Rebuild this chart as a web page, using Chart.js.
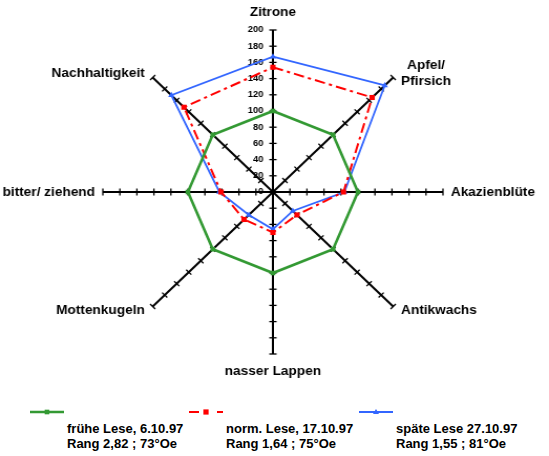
<!DOCTYPE html>
<html lang="de">
<head>
<meta charset="UTF-8">
<title>Aromaprofil nach Lesezeitpunkt</title>
<script src="https://cdn.jsdelivr.net/npm/chart.js@4"></script>
<style>
  body { margin: 0; background: #fff; font-family: "Liberation Sans", Arial, sans-serif; }
  #wrap { position: absolute; left: 0; top: 0; width: 523px; height: 392px;
          transform: scaleX(1.0497); transform-origin: 0 0; }
  .leg { position: absolute; top: 405px; }
  .leg svg { position: absolute; left: 0; top: 0; }
  .leg .txt { position: absolute; left: 37px; top: 16px; white-space: nowrap;
              font-weight: bold; font-size: 13px; line-height: 15px; color: #000; }
</style>
</head>
<body>

<div id="wrap"><canvas id="radar"></canvas></div>
<div id="legend"></div>

<script>
    // categories (clockwise from top)
    const categories = ['Zitrone', ['Apfel/', 'Pfirsich'], 'Akazienblüte', 'Antikwachs',
                        'nasser Lappen', 'Mottenkugeln', 'bitter/ ziehend', 'Nachhaltigkeit'];

    // series values
    const fruehe = [100, 100, 100, 100, 100, 100, 100, 100];
    const normal = [154, 165, 83, 40, 50, 48, 61, 148];
    const spaete = [167, 186, 84, 33, 46, 40, 63, 169];

    const seriesNames = ['frühe Lese, 6.10.97', 'norm. Lese, 17.10.97', 'späte Lese 27.10.97'];
    const seriesNotes = ['Rang 2,82 ; 73°Oe', 'Rang 1,64 ; 75°Oe', 'Rang 1,55 ; 81°Oe'];

    // axis ticks
    const tickValues = [0, 20, 40, 60, 80, 100, 120, 140, 160, 180, 200];
    const tickLabels = ['0', '20', '40', '60', '80', '100', '120', '140', '160', '180', '200'];

    const FONT = '"Liberation Sans", Arial, sans-serif';

    // cross ticks on every axis, value labels on the top axis
    const axisTicks = {
        id: 'axisTicks',
        beforeDatasetsDraw(chart) {
            const r = chart.scales.r;
            const ctx = chart.ctx;
            ctx.save();
            ctx.strokeStyle = '#000';
            ctx.lineWidth = 1.3;
            for (let i = 0; i < categories.length; i++) {
                const a = r.getIndexAngle(i) - Math.PI / 2;
                const px = -Math.sin(a), py = Math.cos(a);
                tickValues.forEach(v => {
                    if (v === 0) return;
                    const p = r.getPointPositionForValue(i, v);
                    ctx.beginPath();
                    ctx.moveTo(p.x - px * 3.5, p.y - py * 3.5);
                    ctx.lineTo(p.x + px * 3.5, p.y + py * 3.5);
                    ctx.stroke();
                });
            }
            ctx.font = 'bold 9px ' + FONT;
            ctx.fillStyle = '#000';
            ctx.textAlign = 'right';
            ctx.textBaseline = 'middle';
            tickValues.forEach((v, k) => {
                const p = r.getPointPositionForValue(0, v);
                ctx.fillText(tickLabels[k], p.x - 9, p.y);
            });
            ctx.restore();
        }
    };

    // category labels placed next to the axis ends
    const axisLabels = {
        id: 'axisLabels',
        afterDraw(chart) {
            const r = chart.scales.r;
            const ctx = chart.ctx;
            const lh = 16;
            ctx.save();
            ctx.font = 'bold 13px ' + FONT;
            ctx.fillStyle = '#000';
            ctx.textAlign = 'center';
            ctx.textBaseline = 'middle';
            categories.forEach((lab, i) => {
                const lines = Array.isArray(lab) ? lab : [lab];
                const p = r.getPointPositionForValue(i, r.max);
                const a = r.getIndexAngle(i);
                const dx = Math.sin(a), dy = -Math.cos(a);
                const w = Math.max(...lines.map(l => ctx.measureText(l).width));
                const h = lines.length * lh;
                let cx, cy;
                if (Math.abs(dx) < 0.01) {
                    cx = p.x;
                    cy = p.y + Math.sign(dy) * (9.5 + h / 2);
                } else {
                    cx = p.x + Math.sign(dx) * (7.5 + w / 2);
                    cy = p.y + dy * 6;
                }
                lines.forEach((l, k) => {
                    ctx.fillText(l, cx, cy - h / 2 + lh / 2 + k * lh);
                });
            });
            ctx.restore();
        }
    };

    const ctx = document.getElementById('radar').getContext('2d');
    const chart = new Chart(ctx, {
        type: 'radar',
        data: {
            labels: categories,
            datasets: [{
                label: seriesNames[0],
                data: fruehe,
                borderColor: '#339933',
                backgroundColor: '#339933',
                borderWidth: 2.6,
                pointStyle: 'rect',
                pointRadius: 3.2,
                pointBorderWidth: 0,
                pointBackgroundColor: '#339933',
                fill: false
            }, {
                label: seriesNames[1],
                data: normal,
                borderColor: '#ff0000',
                backgroundColor: '#ff0000',
                borderWidth: 2,
                borderDash: [10, 4, 3, 4],
                pointStyle: 'rect',
                pointRadius: 3.6,
                pointBorderWidth: 0,
                pointBackgroundColor: '#ff0000',
                fill: false
            }, {
                label: seriesNames[2],
                data: spaete,
                borderColor: '#3366ff',
                backgroundColor: '#3366ff',
                borderWidth: 1.8,
                pointStyle: 'triangle',
                pointRadius: 3.5,
                pointBorderWidth: 0,
                pointBackgroundColor: '#3366ff',
                fill: false
            }]
        },
        options: {
            responsive: true,
            maintainAspectRatio: false,
            animation: false,
            layout: { padding: { top: 30, bottom: 38, left: 0, right: 3 } },
            elements: { line: { tension: 0 } },
            scales: {
                r: {
                    min: 0,
                    max: 200,
                    ticks: { display: false, stepSize: 20 },
                    grid: { display: false },
                    angleLines: { display: true, color: '#000', lineWidth: 2 },
                    pointLabels: { display: false }
                }
            },
            plugins: {
                legend: { display: false },
                tooltip: { enabled: false }
            }
        },
        plugins: [axisTicks, axisLabels]
    });

    // legend below the chart
    const legendX = [30, 189, 359];
    const legend = document.getElementById('legend');
    chart.data.datasets.forEach((ds, i) => {
        const item = document.createElement('div');
        item.className = 'leg';
        item.style.left = legendX[i] + 'px';
        const dash = ds.borderDash ? 'stroke-dasharray="10,18,6"' : '';
        let marker;
        if (ds.pointStyle === 'triangle') {
            marker = `<polygon points="17,4 20,9 14,9" fill="${ds.borderColor}"/>`;
        } else {
            const s = ds.pointRadius * 1.45;
            marker = `<rect x="${17 - s / 2}" y="${7 - s / 2}" width="${s}" height="${s}" fill="${ds.borderColor}"/>`;
        }
        item.innerHTML =
            `<svg width="36" height="14"><line x1="0" y1="7" x2="34" y2="7" stroke="${ds.borderColor}" ` +
            `stroke-width="${ds.borderWidth}" ${dash}/>${marker}</svg>` +
            `<div class="txt">${seriesNames[i]}<br>${seriesNotes[i]}</div>`;
        legend.appendChild(item);
    });
</script>

</body>
</html>
